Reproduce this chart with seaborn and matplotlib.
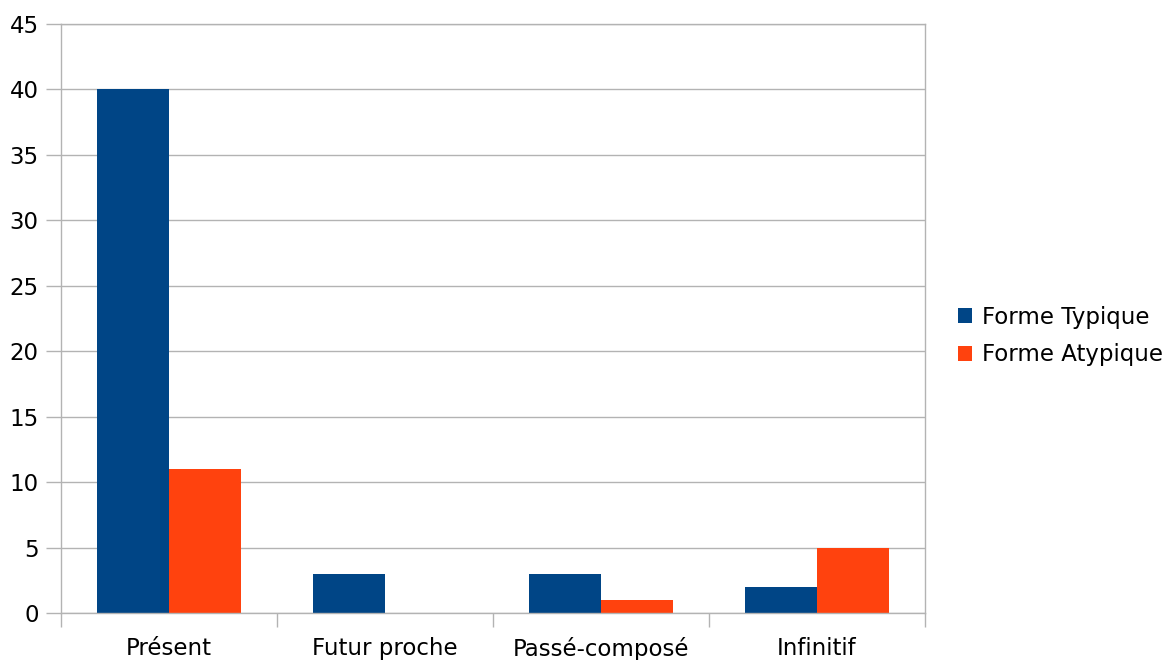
import pandas as pd
import matplotlib.pyplot as plt
import seaborn as sns

# data
categories = ['Présent', 'Futur proche', 'Passé-composé', 'Infinitif']
typique = [40, 3, 3, 2]
atypique = [11, 0, 1, 5]
series_names = ['Forme Typique', 'Forme Atypique']

df = pd.DataFrame({
    'Temps': categories * 2,
    'Valeur': typique + atypique,
    'Forme': [series_names[0]] * 4 + [series_names[1]] * 4,
})

sns.set_theme(style='white')
plt.rcParams['font.family'] = ['DejaVu Sans']
plt.rcParams['text.color'] = 'black'

fig = plt.figure(figsize=(11.73, 6.6), dpi=100)
ax = fig.add_axes([61 / 1173, 47 / 660, 864 / 1173, 589 / 660])

sns.barplot(data=df, x='Temps', y='Valeur', hue='Forme', order=categories,
            hue_order=series_names, palette=['#004586', '#ff420e'],
            width=0.67, saturation=1, ax=ax, errorbar=None, linewidth=0)

grid_c = '#b3b3b3'
fs = 16.5
ax.set_ylim(0, 45)
ax.set_xlim(-0.5, 3.5)
ax.set_yticks(range(0, 46, 5))
ax.yaxis.grid(True, color=grid_c, linewidth=1)
ax.set_axisbelow(True)
ax.set_xlabel('')
ax.set_ylabel('')

# category boundaries as x tick marks, labels in the middle
ax.set_xticks([i - 0.5 for i in range(5)], minor=True)
ax.tick_params(axis='x', which='minor', length=10, width=1, color=grid_c, bottom=True)
ax.tick_params(axis='x', which='major', length=0, labelsize=fs, pad=17.5, labelcolor='black')
ax.tick_params(axis='y', length=11, width=1, color=grid_c, left=True, labelsize=fs,
               pad=5, labelcolor='black')

for side in ['left', 'right', 'top', 'bottom']:
    ax.spines[side].set_visible(True)
    ax.spines[side].set_color(grid_c)
    ax.spines[side].set_linewidth(1)

leg = ax.legend(loc='center left', bbox_to_anchor=(949 / 1173, 1 - 336 / 660),
                bbox_transform=fig.transFigure, frameon=False, borderaxespad=0,
                fontsize=fs, handlelength=0.62, handleheight=0.62, handletextpad=0.4,
                labelspacing=0.65)
for t in leg.get_texts():
    t.set_color('black')

fig.savefig('out.png', dpi=100)
